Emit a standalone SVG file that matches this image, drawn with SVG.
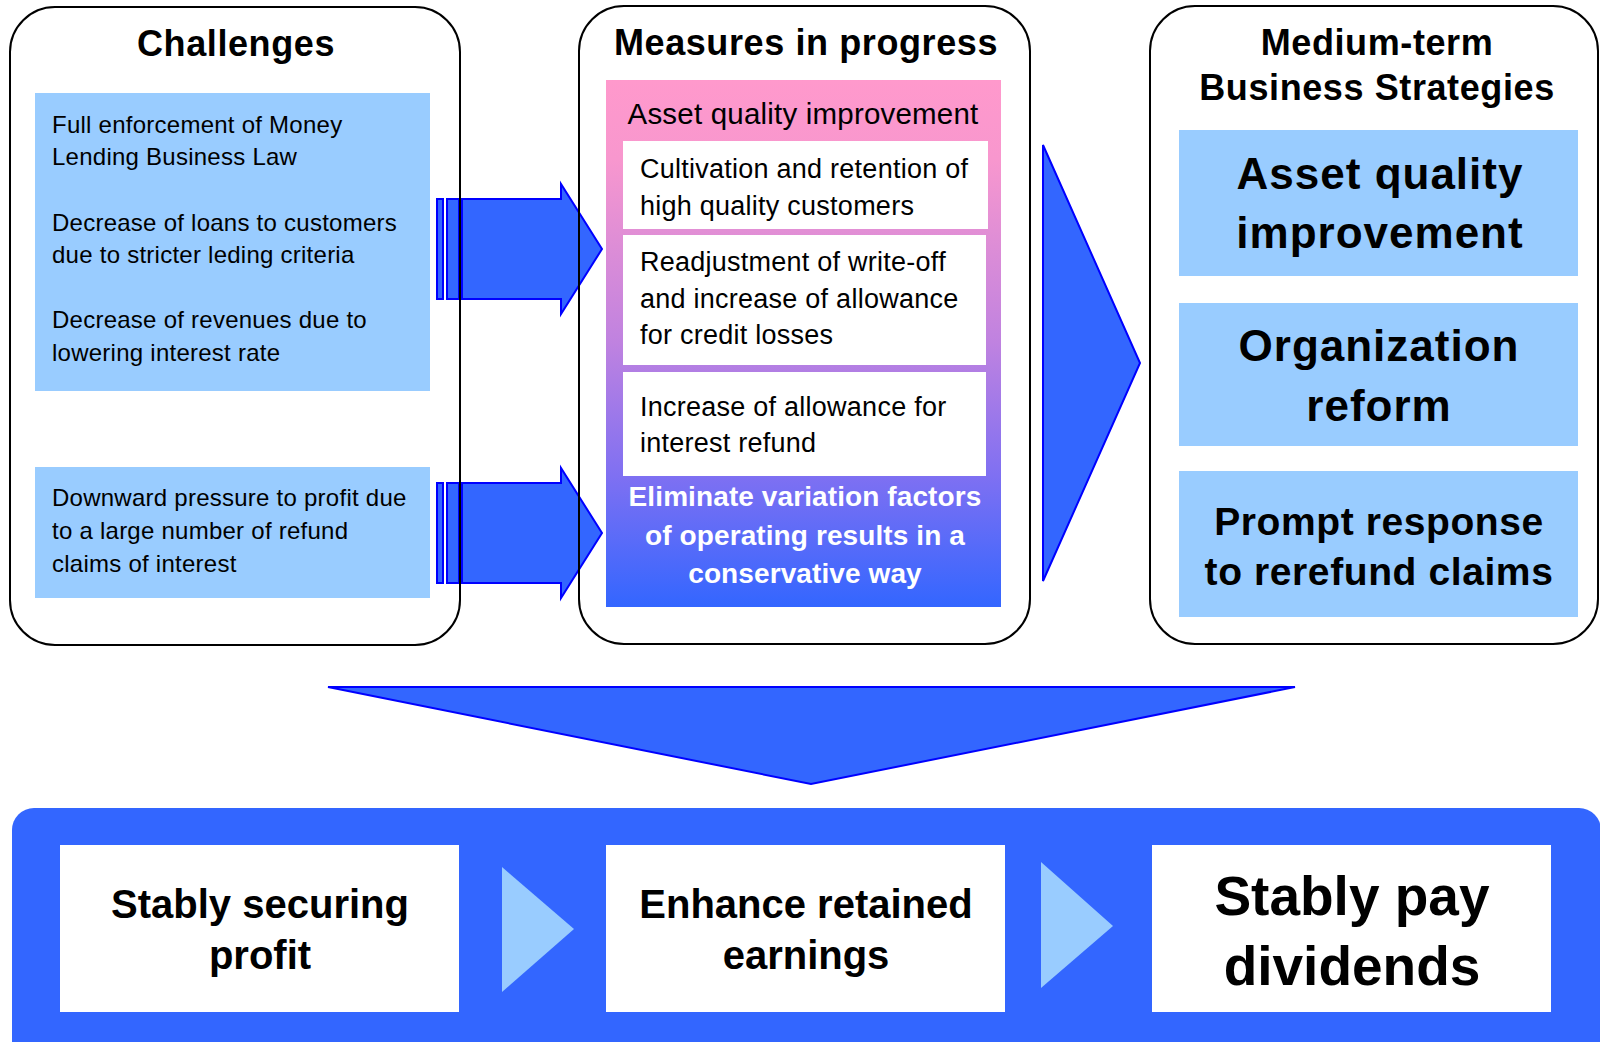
<svg xmlns="http://www.w3.org/2000/svg" width="1600" height="1042" viewBox="0 0 1600 1042">
  <defs>
    <linearGradient id="measureGrad" x1="0" y1="0" x2="0" y2="1">
      <stop offset="0" stop-color="#FF99CC"/>
      <stop offset="0.15" stop-color="#F897CE"/>
      <stop offset="0.5" stop-color="#BF82E0"/>
      <stop offset="0.75" stop-color="#7F70F2"/>
      <stop offset="1" stop-color="#3366FF"/>
    </linearGradient>
  </defs>
  <style>
    .panel { fill: none; stroke: #000; stroke-width: 2; }
    .blue { fill: #3366FF; stroke: #0000FF; stroke-width: 2; stroke-linejoin: miter; }
    .light { fill: #99CCFF; }
    .white { fill: #FFFFFF; }
    .title { font-family: "Liberation Sans", Arial, sans-serif; font-weight: bold; font-size: 36px; letter-spacing: 0.6px; text-anchor: middle; fill: #000; }
    .small { font-family: "Liberation Sans", Arial, sans-serif; font-size: 24px; letter-spacing: 0.25px; fill: #000; }
    .measure { font-family: "Liberation Sans", Arial, sans-serif; font-size: 27px; letter-spacing: 0.25px; fill: #000; }
    .head { font-family: "Liberation Sans", Arial, sans-serif; font-size: 29.5px; letter-spacing: 0.2px; text-anchor: middle; fill: #000; }
    .elim { font-family: "Liberation Sans", Arial, sans-serif; font-weight: bold; font-size: 28px; letter-spacing: 0.1px; text-anchor: middle; fill: #FFFFFF; }
    .strat { font-family: "Liberation Sans", Arial, sans-serif; font-weight: bold; font-size: 44px; letter-spacing: 1px; text-anchor: middle; fill: #000; }
    .strat2 { font-family: "Liberation Sans", Arial, sans-serif; font-weight: bold; font-size: 39px; letter-spacing: 0.6px; text-anchor: middle; fill: #000; }
    .goal { font-family: "Liberation Sans", Arial, sans-serif; font-weight: bold; font-size: 40px; text-anchor: middle; fill: #000; }
    .goalBig { font-family: "Liberation Sans", Arial, sans-serif; font-weight: bold; font-size: 55px; text-anchor: middle; fill: #000; }
  </style>

  <rect x="0" y="0" width="1600" height="1042" fill="#FFFFFF"/>

  <!-- connectors: block arrows between the panels and down to the outcome band -->
  <g id="connectors">
    <g id="arrow-upper">
      <rect class="blue" x="437" y="199" width="6" height="100" stroke-width="1.5"/>
      <rect class="blue" x="447" y="199" width="12" height="100" stroke-width="1.5"/>
      <polygon class="blue" points="462,199 561,199 561,184 602,249 561,314 561,299 462,299"/>
    </g>
    <g id="arrow-lower" transform="translate(0,284)">
      <rect class="blue" x="437" y="199" width="6" height="100" stroke-width="1.5"/>
      <rect class="blue" x="447" y="199" width="12" height="100" stroke-width="1.5"/>
      <polygon class="blue" points="462,199 561,199 561,184 602,249 561,314 561,299 462,299"/>
    </g>
    <polygon id="arrow-right" class="blue" points="1043,145 1140,363 1043,581"/>
    <polygon id="arrow-down" class="blue" points="328,687 1295,687 811,784"/>
  </g>

  <!-- Challenges -->
  <g id="challenges">
    <rect class="panel" x="10" y="7" width="450" height="638" rx="45" ry="45"/>
    <text class="title" x="236" y="56">Challenges</text>
    <rect class="light" x="35" y="93" width="395" height="298"/>
    <text class="small" x="52" y="133">Full enforcement of Money</text>
    <text class="small" x="52" y="165">Lending Business Law</text>
    <text class="small" x="52" y="231">Decrease of loans to customers</text>
    <text class="small" x="52" y="263">due to stricter leding criteria</text>
    <text class="small" x="52" y="328">Decrease of revenues due to</text>
    <text class="small" x="52" y="361">lowering interest rate</text>
    <rect class="light" x="35" y="467" width="395" height="131"/>
    <text class="small" x="52" y="506">Downward pressure to profit due</text>
    <text class="small" x="52" y="539">to a large number of refund</text>
    <text class="small" x="52" y="572">claims of interest</text>
  </g>

  <!-- Measures in progress -->
  <g id="measures">
    <rect class="panel" x="579" y="6" width="451" height="638" rx="45" ry="45"/>
    <text class="title" x="806" y="55">Measures in progress</text>
    <rect x="606" y="80" width="395" height="527" fill="url(#measureGrad)"/>
    <text class="head" x="803" y="124">Asset quality improvement</text>
    <rect class="white" x="623" y="141" width="365" height="88"/>
    <text class="measure" x="640" y="178">Cultivation and retention of</text>
    <text class="measure" x="640" y="215">high quality customers</text>
    <rect class="white" x="623" y="235" width="363" height="130"/>
    <text class="measure" x="640" y="271">Readjustment of write-off</text>
    <text class="measure" x="640" y="308">and increase of allowance</text>
    <text class="measure" x="640" y="344">for credit losses</text>
    <rect class="white" x="623" y="372" width="363" height="104"/>
    <text class="measure" x="640" y="416">Increase of allowance for</text>
    <text class="measure" x="640" y="452">interest refund</text>
    <text class="elim" x="805" y="506">Eliminate variation factors</text>
    <text class="elim" x="805" y="545">of operating results in a</text>
    <text class="elim" x="805" y="583">conservative way</text>
  </g>

  <!-- Medium-term Business Strategies -->
  <g id="strategies">
    <rect class="panel" x="1150" y="6" width="448" height="638" rx="45" ry="45"/>
    <text class="title" x="1377" y="55">Medium-term</text>
    <text class="title" x="1377" y="100">Business Strategies</text>
    <rect class="light" x="1179" y="130" width="399" height="146"/>
    <text class="strat" x="1380" y="189">Asset quality</text>
    <text class="strat" x="1380" y="248">improvement</text>
    <rect class="light" x="1179" y="303" width="399" height="143"/>
    <text class="strat" x="1379" y="361">Organization</text>
    <text class="strat" x="1379" y="421">reform</text>
    <rect class="light" x="1179" y="471" width="399" height="146"/>
    <text class="strat2" x="1379" y="535">Prompt response</text>
    <text class="strat2" x="1379" y="585">to rerefund claims</text>
  </g>

  <!-- Outcome band -->
  <g id="outcomes">
    <rect x="12" y="808" width="1589" height="270" rx="22" ry="22" fill="#3366FF"/>
    <g id="goal-profit">
      <rect class="white" x="60" y="845" width="399" height="167"/>
      <text class="goal" x="260" y="918">Stably securing</text>
      <text class="goal" x="260" y="969">profit</text>
    </g>
    <polygon class="light" points="502,867 574,929 502,992"/>
    <g id="goal-earnings">
      <rect class="white" x="606" y="845" width="399" height="167"/>
      <text class="goal" x="806" y="918">Enhance retained</text>
      <text class="goal" x="806" y="969">earnings</text>
    </g>
    <polygon class="light" points="1041,862 1113,926 1041,988"/>
    <g id="goal-dividends">
      <rect class="white" x="1152" y="845" width="399" height="167"/>
      <text class="goalBig" x="1352" y="915">Stably pay</text>
      <text class="goalBig" x="1352" y="985">dividends</text>
    </g>
  </g>
</svg>
